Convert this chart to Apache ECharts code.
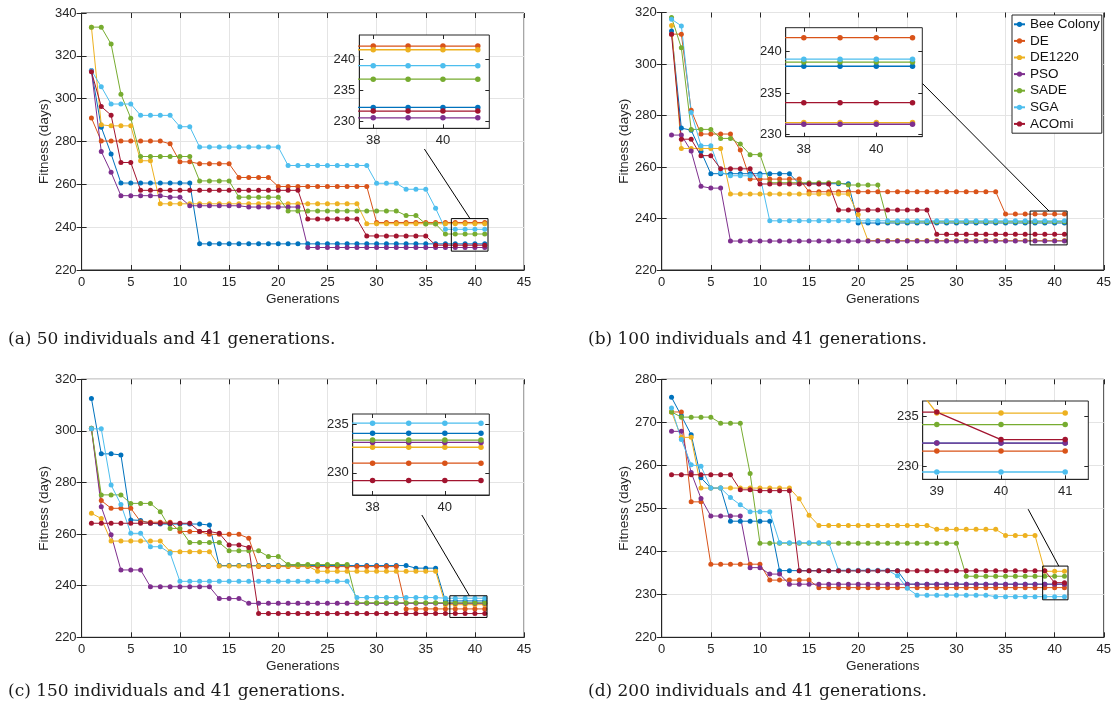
<!DOCTYPE html>
<html>
<head>
<meta charset="utf-8">
<script src="https://cdn.jsdelivr.net/npm/echarts@6/dist/echarts.min.js"></script>
<style>
  html, body { margin: 0; padding: 0; background: #fff; }
  #chart { width: 1114px; height: 720px; }
</style>
</head>
<body>
<div id="chart"></div>
<script>
// Best fitness per generation for each optimiser, four population sizes.
const generations = [1, 2, 3, 4, 5, 6, 7, 8, 9, 10, 11, 12, 13, 14, 15, 16, 17, 18, 19, 20,
  21, 22, 23, 24, 25, 26, 27, 28, 29, 30, 31, 32, 33, 34, 35, 36, 37, 38, 39, 40, 41];

const algorithms = ['Bee Colony', 'DE', 'DE1220', 'PSO', 'SADE', 'SGA', 'ACOmi'];

// ---- 50 individuals ----
const bee50 = [313.0, 286.7, 274.2, 260.6, 260.6, 260.6, 260.6, 260.6, 260.6, 260.6,
  260.6, 232.2, 232.2, 232.2, 232.2, 232.2, 232.2, 232.2, 232.2, 232.2,
  232.2, 232.2, 232.2, 232.2, 232.2, 232.2, 232.2, 232.2, 232.2, 232.2,
  232.2, 232.2, 232.2, 232.2, 232.2, 232.2, 232.2, 232.2, 232.2, 232.2, 232.2];
const de50 = [291.0, 280.2, 280.2, 280.2, 280.2, 280.2, 280.2, 280.2, 278.9, 270.5,
  270.5, 269.6, 269.6, 269.6, 269.6, 263.2, 263.2, 263.2, 263.2, 259.0,
  259.0, 259.0, 259.0, 259.0, 259.0, 259.0, 259.0, 259.0, 259.0, 242.2,
  242.2, 242.2, 242.2, 242.2, 242.2, 242.2, 242.2, 242.2, 242.2, 242.2, 242.2];
const de1220_50 = [333.4, 287.8, 287.3, 287.3, 287.3, 271.0, 271.0, 250.9, 250.9, 250.9,
  250.9, 250.9, 250.9, 250.9, 250.9, 250.9, 250.9, 250.9, 250.9, 250.9,
  250.9, 250.9, 250.9, 250.9, 250.9, 250.9, 250.9, 250.9, 241.6, 241.6,
  241.6, 241.6, 241.6, 241.6, 241.6, 241.6, 241.6, 241.6, 241.6, 241.6, 241.6];
const pso50 = [313.0, 275.3, 265.6, 254.7, 254.7, 254.7, 254.7, 254.7, 254.0, 254.0,
  250.0, 250.0, 250.0, 250.0, 250.0, 250.0, 249.4, 249.4, 249.4, 249.4,
  249.4, 249.4, 230.5, 230.5, 230.5, 230.5, 230.5, 230.5, 230.5, 230.5,
  230.5, 230.5, 230.5, 230.5, 230.5, 230.5, 230.5, 230.5, 230.5, 230.5, 230.5];
const sade50 = [333.4, 333.4, 325.5, 302.1, 290.9, 273.0, 273.0, 273.0, 273.0, 273.0,
  273.0, 261.6, 261.6, 261.6, 261.6, 254.0, 254.0, 254.0, 254.0, 254.0,
  247.6, 247.6, 247.6, 247.6, 247.6, 247.6, 247.6, 247.6, 247.6, 247.6,
  247.6, 247.6, 245.4, 245.4, 241.5, 241.5, 236.8, 236.8, 236.8, 236.8, 236.8];
const sga50 = [313.1, 305.6, 297.5, 297.5, 297.5, 292.2, 292.2, 292.2, 292.2, 286.9,
  286.9, 277.4, 277.4, 277.4, 277.4, 277.4, 277.4, 277.4, 277.4, 277.4,
  268.8, 268.8, 268.8, 268.8, 268.8, 268.8, 268.8, 268.8, 268.8, 260.5,
  260.5, 260.5, 257.7, 257.7, 257.7, 248.8, 239.0, 239.0, 239.0, 239.0, 239.0];
const acomi50 = [312.6, 296.3, 292.3, 270.2, 270.2, 257.2, 257.2, 257.2, 257.2, 257.2,
  257.2, 257.2, 257.2, 257.2, 257.2, 257.2, 257.2, 257.2, 257.2, 257.2,
  257.2, 257.2, 243.8, 243.8, 243.8, 243.8, 243.8, 243.8, 235.9, 235.9,
  235.9, 235.9, 235.9, 235.9, 235.9, 231.6, 231.6, 231.6, 231.6, 231.6, 231.6];

// ---- 100 individuals ----
const bee100 = [312.8, 275.1, 274.3, 266.0, 257.4, 257.4, 257.4, 257.4, 257.4, 257.4,
  257.4, 257.4, 257.4, 253.5, 253.5, 253.5, 253.5, 253.5, 253.5, 238.25,
  238.25, 238.25, 238.25, 238.25, 238.25, 238.25, 238.25, 238.25, 238.25, 238.25,
  238.25, 238.25, 238.25, 238.25, 238.25, 238.25, 238.25, 238.25, 238.25, 238.25, 238.25];
const de100 = [311.6, 311.6, 282.0, 272.8, 272.8, 272.8, 272.8, 266.6, 255.3, 255.3,
  255.3, 255.3, 255.3, 255.3, 250.4, 250.4, 250.4, 250.4, 250.4, 250.4,
  250.4, 250.4, 250.4, 250.4, 250.4, 250.4, 250.4, 250.4, 250.4, 250.4,
  250.4, 250.4, 250.4, 250.4, 241.7, 241.7, 241.7, 241.7, 241.7, 241.7, 241.7];
const de1220_100 = [315.0, 267.2, 267.2, 267.2, 267.2, 267.2, 249.5, 249.5, 249.5, 249.5,
  249.5, 249.5, 249.5, 249.5, 249.5, 249.5, 249.5, 249.5, 249.5, 241.6,
  231.45, 231.45, 231.45, 231.45, 231.45, 231.45, 231.45, 231.45, 231.45, 231.45,
  231.45, 231.45, 231.45, 231.45, 231.45, 231.45, 231.45, 231.45, 231.45, 231.45, 231.45];
const pso100 = [272.4, 272.4, 266.2, 252.5, 251.8, 251.8, 231.25, 231.25, 231.25, 231.25,
  231.25, 231.25, 231.25, 231.25, 231.25, 231.25, 231.25, 231.25, 231.25, 231.25,
  231.25, 231.25, 231.25, 231.25, 231.25, 231.25, 231.25, 231.25, 231.25, 231.25,
  231.25, 231.25, 231.25, 231.25, 231.25, 231.25, 231.25, 231.25, 231.25, 231.25, 231.25];
const sade100 = [318.1, 306.3, 274.6, 274.6, 274.6, 271.1, 271.1, 268.9, 264.8, 264.8,
  253.9, 253.9, 253.9, 253.9, 253.9, 253.9, 253.9, 253.9, 253.0, 253.0,
  253.0, 253.0, 238.75, 238.75, 238.75, 238.75, 238.75, 238.75, 238.75, 238.75,
  238.75, 238.75, 238.75, 238.75, 238.75, 238.75, 238.75, 238.75, 238.75, 238.75, 238.75];
const sga100 = [317.4, 314.8, 281.2, 268.3, 268.3, 258.0, 256.6, 256.6, 256.6, 256.6,
  239.1, 239.1, 239.1, 239.1, 239.1, 239.1, 239.1, 239.1, 239.1, 239.1,
  239.1, 239.1, 239.1, 239.1, 239.1, 239.1, 239.1, 239.1, 239.1, 239.1,
  239.1, 239.1, 239.1, 239.1, 239.1, 239.1, 239.1, 239.1, 239.1, 239.1, 239.1];
const acomi100 = [311.6, 270.8, 270.8, 264.4, 264.4, 259.3, 259.3, 259.3, 259.3, 253.4,
  253.4, 253.4, 253.4, 253.4, 253.4, 253.4, 253.4, 243.3, 243.3, 243.3,
  243.3, 243.3, 243.3, 243.3, 243.3, 243.3, 243.3, 233.85, 233.85, 233.85,
  233.85, 233.85, 233.85, 233.85, 233.85, 233.85, 233.85, 233.85, 233.85, 233.85, 233.85];

// ---- 150 individuals ----
const bee150 = [312.6, 291.1, 291.1, 290.7, 265.5, 265.3, 264.2, 263.9, 263.9, 263.9,
  263.9, 263.9, 263.5, 247.8, 247.8, 247.8, 247.8, 247.8, 247.8, 247.8,
  247.8, 247.8, 247.8, 247.8, 247.8, 247.8, 247.8, 247.8, 247.8, 247.8,
  247.8, 247.8, 247.8, 246.8, 246.8, 246.8, 234.1, 234.1, 234.1, 234.1, 234.1];
const de150 = [300.8, 273.0, 270.0, 270.0, 270.0, 264.8, 264.6, 264.6, 264.6, 261.0,
  261.0, 261.0, 259.9, 259.9, 259.9, 259.9, 258.4, 247.4, 247.4, 247.4,
  247.4, 247.4, 247.4, 247.4, 247.4, 247.4, 247.4, 247.4, 247.4, 247.4,
  247.4, 247.4, 231.0, 231.0, 231.0, 231.0, 231.0, 231.0, 231.0, 231.0, 231.0];
const de1220_150 = [268.1, 266.0, 257.3, 257.3, 257.3, 257.3, 257.3, 257.3, 253.2, 253.2,
  253.2, 253.2, 253.2, 247.6, 247.6, 247.6, 247.6, 247.6, 247.6, 247.6,
  247.6, 247.6, 247.6, 245.6, 245.6, 245.6, 245.6, 245.6, 245.6, 245.6,
  245.6, 245.6, 245.6, 245.6, 245.6, 245.6, 232.65, 232.65, 232.65, 232.65, 232.65];
const pso150 = [301.0, 270.6, 259.7, 246.1, 246.1, 246.1, 239.6, 239.6, 239.6, 239.6,
  239.6, 239.6, 239.6, 235.0, 235.0, 235.0, 233.15, 233.15, 233.15, 233.15,
  233.15, 233.15, 233.15, 233.15, 233.15, 233.15, 233.15, 233.15, 233.15, 233.15,
  233.15, 233.15, 233.15, 233.15, 233.15, 233.15, 233.15, 233.15, 233.15, 233.15, 233.15];
const sade150 = [301.0, 275.2, 275.2, 275.2, 271.9, 271.9, 271.9, 268.7, 262.2, 262.2,
  256.7, 256.7, 256.7, 256.7, 253.5, 253.5, 253.5, 253.5, 251.3, 251.3,
  248.2, 248.2, 248.2, 248.2, 248.2, 248.2, 248.2, 233.4, 233.4, 233.4,
  233.4, 233.4, 233.4, 233.4, 233.4, 233.4, 233.4, 233.4, 233.4, 233.4, 233.4];
const sga150 = [300.8, 300.8, 279.0, 271.5, 260.3, 260.3, 255.1, 255.1, 252.6, 241.7,
  241.7, 241.7, 241.7, 241.7, 241.7, 241.7, 241.7, 241.7, 241.7, 241.7,
  241.7, 241.7, 241.7, 241.7, 241.7, 241.7, 241.7, 235.4, 235.4, 235.4,
  235.4, 235.4, 235.4, 235.4, 235.4, 235.4, 235.15, 235.15, 235.15, 235.15, 235.15];
const acomi150 = [264.2, 264.2, 264.2, 264.2, 264.2, 264.2, 264.2, 264.2, 264.2, 264.2,
  264.2, 261.0, 261.0, 260.3, 255.8, 255.8, 254.8, 229.2, 229.2, 229.2,
  229.2, 229.2, 229.2, 229.2, 229.2, 229.2, 229.2, 229.2, 229.2, 229.2,
  229.2, 229.2, 229.2, 229.2, 229.2, 229.2, 229.2, 229.2, 229.2, 229.2, 229.2];

// ---- 200 individuals ----
const bee200 = [275.8, 271.5, 267.1, 257.1, 254.7, 254.7, 247.0, 247.0, 247.0, 247.0,
  247.0, 235.5, 235.5, 235.5, 235.5, 235.5, 235.5, 235.5, 235.5, 235.5,
  235.5, 235.5, 235.5, 235.5, 232.35, 232.35, 232.35, 232.35, 232.35, 232.35,
  232.35, 232.35, 232.35, 232.35, 232.35, 232.35, 232.35, 232.35, 232.35, 232.35, 232.35];
const de200 = [272.4, 272.4, 251.5, 251.5, 237.0, 237.0, 237.0, 237.0, 237.0, 237.0,
  233.3, 233.3, 233.3, 233.3, 233.3, 231.55, 231.55, 231.55, 231.55, 231.55,
  231.55, 231.55, 231.55, 231.55, 231.55, 231.55, 231.55, 231.55, 231.55, 231.55,
  231.55, 231.55, 231.55, 231.55, 231.55, 231.55, 231.55, 231.55, 231.55, 231.55, 231.55];
const de1220_200 = [272.4, 266.5, 266.5, 254.7, 254.7, 254.7, 254.7, 254.7, 254.7, 254.7,
  254.7, 254.7, 254.7, 252.2, 248.4, 246.0, 246.0, 246.0, 246.0, 246.0,
  246.0, 246.0, 246.0, 246.0, 246.0, 246.0, 246.0, 245.1, 245.1, 245.1,
  245.1, 245.1, 245.1, 245.1, 243.7, 243.7, 243.7, 243.7, 235.35, 235.35, 235.35];
const pso200 = [267.9, 267.9, 258.3, 252.3, 248.2, 248.2, 248.2, 248.2, 236.2, 236.2,
  234.7, 234.7, 232.35, 232.35, 232.35, 232.35, 232.35, 232.35, 232.35, 232.35,
  232.35, 232.35, 232.35, 232.35, 232.35, 232.35, 232.35, 232.35, 232.35, 232.35,
  232.35, 232.35, 232.35, 232.35, 232.35, 232.35, 232.35, 232.35, 232.35, 232.35, 232.35];
const sade200 = [272.4, 271.2, 271.2, 271.2, 271.2, 269.8, 269.8, 269.8, 258.1, 241.9,
  241.9, 241.9, 241.9, 241.9, 241.9, 241.9, 241.9, 241.9, 241.9, 241.9,
  241.9, 241.9, 241.9, 241.9, 241.9, 241.9, 241.9, 241.9, 241.9, 241.9,
  234.2, 234.2, 234.2, 234.2, 234.2, 234.2, 234.2, 234.2, 234.2, 234.2, 234.2];
const sga200 = [273.3, 266.0, 260.1, 259.8, 254.7, 254.7, 252.5, 250.8, 249.2, 249.2,
  249.2, 242.0, 242.0, 242.0, 242.0, 242.0, 242.0, 235.6, 235.6, 235.6,
  235.6, 235.6, 235.6, 234.3, 231.4, 229.8, 229.8, 229.8, 229.8, 229.8,
  229.8, 229.8, 229.8, 229.45, 229.45, 229.45, 229.45, 229.45, 229.45, 229.45, 229.45];
const acomi200 = [257.8, 257.8, 257.8, 257.8, 257.8, 257.8, 257.8, 254.3, 254.3, 254.1,
  254.1, 254.1, 254.1, 235.45, 235.45, 235.45, 235.45, 235.45, 235.45, 235.45,
  235.45, 235.45, 235.45, 235.45, 235.45, 235.45, 235.45, 235.45, 235.45, 235.45,
  235.45, 235.45, 235.45, 235.45, 235.45, 235.45, 235.45, 235.45, 235.45, 232.7, 232.7];

// Magnified windows (generation range, fitness range) and inset tick labels
const zoomX50 = [37.6, 41.33],   zoomY50 = [228.8, 244.0];
const zoomX100 = [37.5, 41.27],  zoomY100 = [229.75, 242.9];
const zoomX150 = [37.45, 41.23], zoomY150 = [227.7, 236.1];
const zoomX200 = [38.78, 41.36], zoomY200 = [228.72, 236.56];
const insetXTicks50 = [38, 40],      insetYTicks50 = [230, 235, 240];
const insetXTicks100 = [38, 40],     insetYTicks100 = [230, 235, 240];
const insetXTicks150 = [38, 40],     insetYTicks150 = [230, 235];
const insetXTicks200 = [39, 40, 41], insetYTicks200 = [230, 235];
// Pointer from each inset to its magnified window (generation, fitness)
const pointer50 = [[34.86, 276.5], [39.5, 244.0]];
const pointer100 = [[26.5, 292.6], [39.43, 242.9]];
const pointer150 = [[34.6, 267.4], [39.44, 236.1]];
const pointer200 = [[37.3, 249.8], [40.42, 236.56]];

const captions = [
  '(a) 50 individuals and 41 generations.',
  '(b) 100 individuals and 41 generations.',
  '(c) 150 individuals and 41 generations.',
  '(d) 200 individuals and 41 generations.'
];

const colors = ['#0072BD', '#D95319', '#EDB120', '#7E2F8E', '#77AC30', '#4DBEEE', '#A2142F'];
const axisColor = '#262626';
const gridColor = '#e4e4e4';
const font = 'Liberation Sans';

const panels = [
  { series: [bee50, de50, de1220_50, pso50, sade50, sga50, acomi50], yMin: 220, yMax: 340, yStep: 20,
    zoomX: zoomX50, zoomY: zoomY50, ix: insetXTicks50, iy: insetYTicks50, pointer: pointer50,
    main: { left: 81.6, top: 13, width: 442.5, height: 257 },
    inset: { left: 359.3, top: 35, width: 130, height: 93.3 },
    caption: { left: 8, top: 331 } },
  { series: [bee100, de100, de1220_100, pso100, sade100, sga100, acomi100], yMin: 220, yMax: 320, yStep: 20,
    zoomX: zoomX100, zoomY: zoomY100, ix: insetXTicks100, iy: insetYTicks100, pointer: pointer100,
    main: { left: 661.7, top: 12.5, width: 442.5, height: 257.5 },
    inset: { left: 785.7, top: 27.7, width: 136.6, height: 109 },
    caption: { left: 588, top: 331 } },
  { series: [bee150, de150, de1220_150, pso150, sade150, sga150, acomi150], yMin: 220, yMax: 320, yStep: 20,
    zoomX: zoomX150, zoomY: zoomY150, ix: insetXTicks150, iy: insetYTicks150, pointer: pointer150,
    main: { left: 81.6, top: 379.3, width: 442.5, height: 258 },
    inset: { left: 352.7, top: 414, width: 136.6, height: 81 },
    caption: { left: 8, top: 683 } },
  { series: [bee200, de200, de1220_200, pso200, sade200, sga200, acomi200], yMin: 220, yMax: 280, yStep: 10,
    zoomX: zoomX200, zoomY: zoomY200, ix: insetXTicks200, iy: insetYTicks200, pointer: pointer200,
    main: { left: 661.7, top: 379.3, width: 442.5, height: 258 },
    inset: { left: 922.7, top: 401, width: 165.6, height: 78.3 },
    caption: { left: 588, top: 683 } }
];

const grid = [], xAxis = [], yAxis = [], series = [], title = [];
const labelStyle = { color: axisColor, fontSize: 13, fontFamily: font };
const tick = { show: true, inside: true, length: 5, lineStyle: { color: axisColor, width: 1 } };

panels.forEach((p, i) => {
  const gMain = 2 * i, gInset = 2 * i + 1, ax = 4 * i;
  grid.push({ ...p.main, show: true, borderColor: axisColor, borderWidth: 1, backgroundColor: 'transparent', z: 0 });
  grid.push({ ...p.inset, show: true, borderColor: axisColor, borderWidth: 1, backgroundColor: '#ffffff', z: 10 });

  // main axes: bottom/left carry labels, top/right just ticks
  xAxis.push({ type: 'value', gridIndex: gMain, min: 0, max: 45, interval: 5, position: 'bottom',
    name: 'Generations', nameLocation: 'middle', nameGap: 22,
    nameTextStyle: { color: axisColor, fontSize: 13.5, fontFamily: font },
    axisLine: { show: true, lineStyle: { color: axisColor } }, axisTick: tick,
    axisLabel: { ...labelStyle, margin: 6 },
    splitLine: { show: true, lineStyle: { color: gridColor, width: 1 } }, z: 1 });
  xAxis.push({ type: 'value', gridIndex: gMain, min: 0, max: 45, interval: 5, position: 'top',
    axisLine: { show: false }, axisTick: tick, axisLabel: { show: false }, splitLine: { show: false }, z: 1 });
  xAxis.push({ type: 'value', gridIndex: gInset, min: p.zoomX[0], max: p.zoomX[1], position: 'bottom',
    axisLine: { show: true, lineStyle: { color: axisColor } },
    axisTick: { ...tick, length: 4, customValues: p.ix },
    axisLabel: { ...labelStyle, margin: 6, customValues: p.ix, showMinLabel: true, showMaxLabel: true },
    splitLine: { show: false }, z: 11 });
  xAxis.push({ type: 'value', gridIndex: gInset, min: p.zoomX[0], max: p.zoomX[1], position: 'top',
    axisLine: { show: false }, axisTick: { ...tick, length: 4, customValues: p.ix },
    axisLabel: { show: false }, splitLine: { show: false }, z: 11 });

  yAxis.push({ type: 'value', gridIndex: gMain, min: p.yMin, max: p.yMax, interval: p.yStep, position: 'left',
    name: 'Fitness (days)', nameLocation: 'middle', nameGap: 25,
    nameTextStyle: { color: axisColor, fontSize: 13.5, fontFamily: font },
    axisLine: { show: true, lineStyle: { color: axisColor } }, axisTick: tick,
    axisLabel: { ...labelStyle, margin: 5 },
    splitLine: { show: true, lineStyle: { color: gridColor, width: 1 } }, z: 1 });
  yAxis.push({ type: 'value', gridIndex: gMain, min: p.yMin, max: p.yMax, interval: p.yStep, position: 'right',
    axisLine: { show: false }, axisTick: tick, axisLabel: { show: false }, splitLine: { show: false }, z: 1 });
  yAxis.push({ type: 'value', gridIndex: gInset, min: p.zoomY[0], max: p.zoomY[1], position: 'left',
    axisLine: { show: true, lineStyle: { color: axisColor } },
    axisTick: { ...tick, length: 4, customValues: p.iy },
    axisLabel: { ...labelStyle, margin: 4, customValues: p.iy },
    splitLine: { show: false }, z: 11 });
  yAxis.push({ type: 'value', gridIndex: gInset, min: p.zoomY[0], max: p.zoomY[1], position: 'right',
    axisLine: { show: false }, axisTick: { ...tick, length: 4, customValues: p.iy },
    axisLabel: { show: false }, splitLine: { show: false }, z: 11 });

  p.series.forEach((vals, k) => {
    const data = generations.map((g, n) => [g, vals[n]]);
    const common = {
      type: 'line', name: algorithms[k], data, color: colors[k],
      symbol: 'circle', showSymbol: true, animation: false, silent: true,
      itemStyle: { color: colors[k] }, emphasis: { disabled: true }
    };
    series.push({ ...common, xAxisIndex: ax, yAxisIndex: ax, symbolSize: 5,
      lineStyle: { width: 1, color: colors[k] }, z: 2 });
    series.push({ ...common, xAxisIndex: ax + 2, yAxisIndex: ax + 2, symbolSize: 5.5, clip: true,
      lineStyle: { width: 1.3, color: colors[k] }, z: 12 });
  });

  // outline of the magnified window
  const [x0, x1] = p.zoomX, [y0, y1] = p.zoomY;
  series.push({ type: 'line', name: 'window', xAxisIndex: ax, yAxisIndex: ax, silent: true,
    data: [[x0, y0], [x1, y0], [x1, y1], [x0, y1], [x0, y0]], symbol: 'none', animation: false,
    lineStyle: { color: '#000', width: 1 }, z: 6 });
  // pointer from the inset to the window
  series.push({ type: 'line', name: 'pointer', xAxisIndex: ax, yAxisIndex: ax, silent: true,
    data: p.pointer, symbol: 'none', animation: false,
    lineStyle: { color: '#000', width: 1 }, z: 6 });

  title.push({ text: captions[i], left: p.caption.left, top: p.caption.top, padding: 0,
    textStyle: { fontFamily: 'DejaVu Serif', fontSize: 17, fontWeight: 'normal', color: '#1a1a1a' } });
});

const chart = echarts.init(document.getElementById('chart'), null, { renderer: 'canvas' });
chart.setOption({
  animation: false,
  backgroundColor: '#ffffff',
  textStyle: { fontFamily: font },
  title,
  legend: {
    data: algorithms, orient: 'vertical', left: 1012, top: 15,
    itemWidth: 11, itemHeight: 6.5, itemGap: 0,
    padding: [1, 2, 1, 1],
    borderColor: axisColor, borderWidth: 1, backgroundColor: '#ffffff',
    textStyle: { color: '#111', fontSize: 13.5, fontFamily: font, lineHeight: 16.6 },
    selectedMode: false, z: 20
  },
  grid, xAxis, yAxis, series
});
</script>
</body>
</html>
